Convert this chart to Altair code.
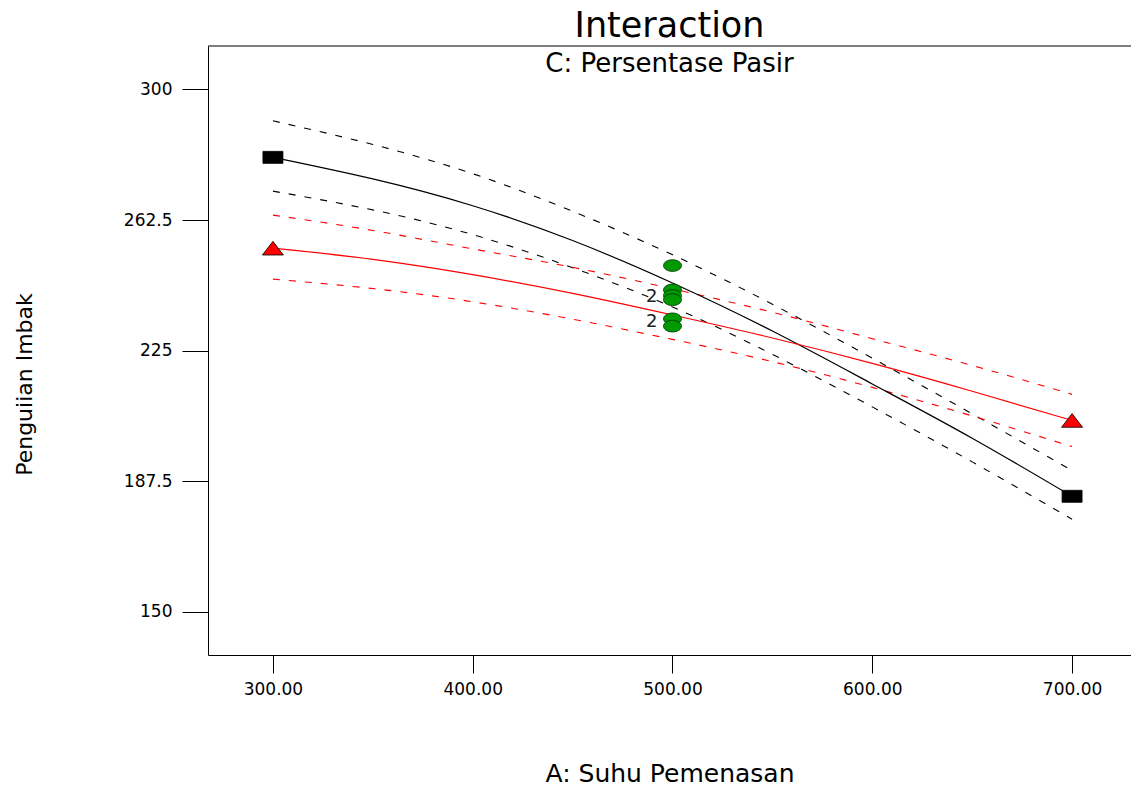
import altair as alt
import pandas as pd

# ---- data ----
x_levels = [300, 350, 400, 450, 500, 550, 600, 650, 700]

black_mean = [280.5, 274.3, 266.6, 256.6, 244.4, 230.6, 215.4, 199.8, 183.1]
black_upper = [291.0, 284.2, 275.8, 265.0, 252.5, 238.3, 222.8, 206.8, 190.5]
black_lower = [270.8, 265.4, 258.3, 248.8, 237.5, 223.9, 208.8, 193.0, 176.5]

red_mean = [254.4, 251.2, 246.8, 241.4, 235.2, 228.6, 221.3, 213.3, 204.9]
red_upper = [263.9, 259.5, 254.2, 248.9, 242.7, 236.0, 228.4, 220.7, 212.4]
red_lower = [245.5, 242.8, 239.0, 234.0, 228.2, 221.8, 214.4, 206.2, 197.4]

design_x = [500, 500, 500, 500, 500, 500]
design_y = [249.4, 242.4, 240.8, 239.6, 234.1, 232.0]

rep_x = [500, 500]
rep_y = [240.3, 233.1]
rep_label = ["2", "2"]

y_ticks = [150, 187.5, 225, 262.5, 300]
x_ticks = [300, 400, 500, 600, 700]

title_text = "Interaction"
subtitle_text = "C: Persentase Pasir"
x_title = "A: Suhu Pemenasan"
y_title = "Penguiian Imbak"

# ---- tables ----
rows = []
for lvl, band, arr in [
    ("low", "mean", black_mean), ("low", "upper", black_upper), ("low", "lower", black_lower),
    ("high", "mean", red_mean), ("high", "upper", red_upper), ("high", "lower", red_lower),
]:
    for xv, yv in zip(x_levels, arr):
        rows.append({"x": xv, "y": yv, "level": lvl, "band": band, "series": lvl + "_" + band})
lines_df = pd.DataFrame(rows)

ends_black = pd.DataFrame({"x": [x_levels[0], x_levels[-1]], "y": [black_mean[0], black_mean[-1]]})
ends_red = pd.DataFrame({"x": [x_levels[0], x_levels[-1]], "y": [red_mean[0], red_mean[-1]]})
design_df = pd.DataFrame({"x": design_x, "y": design_y})
rep_df = pd.DataFrame({"x": rep_x, "y": rep_y, "t": rep_label})

FONT = "DejaVu Sans"
W, H = 923, 609

xscale = alt.Scale(domain=[267.5, 729.5], nice=False, zero=False)
yscale = alt.Scale(domain=[137.5, 312.5], nice=False, zero=False)
color_scale = alt.Scale(domain=["low", "high"], range=["#000000", "#ff0000"])

x_axis = alt.Axis(
    values=x_ticks, format=".2f", grid=False, tickSize=18, labelPadding=8,
    labelFont=FONT, labelFontSize=17, labelColor="#000", tickColor="#000",
    domainColor="#000", title=x_title, titleFont=FONT, titleFontSize=25,
    titleFontWeight="normal", titleColor="#000", titleBaseline="alphabetic",
    titleY=126,
)
y_axis = alt.Axis(
    values=y_ticks, labelExpr="datum.value", grid=False, tickSize=26, labelPadding=10,
    labelFont=FONT, labelFontSize=17, labelColor="#000", tickColor="#000",
    domainColor="#000", title=y_title, titleFont=FONT, titleFontSize=22,
    titleFontWeight="normal", titleColor="#000", titleAngle=270,
    titleBaseline="middle", titleAlign="center", titleX=-184, titleY=338,
)

base = alt.Chart(lines_df)

dashed = base.transform_filter(alt.datum.band != "mean").mark_line(
    strokeDash=[7, 9], strokeWidth=1.1, interpolate="natural"
).encode(
    x=alt.X("x:Q", scale=xscale, axis=x_axis),
    y=alt.Y("y:Q", scale=yscale, axis=y_axis),
    color=alt.Color("level:N", scale=color_scale, legend=None),
    detail="series:N",
)

solid = base.transform_filter(alt.datum.band == "mean").mark_line(
    strokeWidth=1.2, interpolate="natural"
).encode(
    x=alt.X("x:Q", scale=xscale),
    y=alt.Y("y:Q", scale=yscale),
    color=alt.Color("level:N", scale=color_scale, legend=None),
    detail="series:N",
)

square_path = "M-1,-0.6L1,-0.6L1,0.6L-1,0.6Z"
tri_path = "M0,-0.65L1,0.65L-1,0.65Z"
ell_path = "M-1,0A1,0.65,0,1,0,1,0A1,0.65,0,1,0,-1,0Z"

sq = alt.Chart(ends_black).mark_point(
    shape=square_path, size=400, filled=True, fill="#000000", stroke="#000000",
    strokeWidth=0.8, opacity=1
).encode(x=alt.X("x:Q", scale=xscale), y=alt.Y("y:Q", scale=yscale))

tri = alt.Chart(ends_red).mark_point(
    shape=tri_path, size=441, filled=True, fill="#ff0000", stroke="#000000",
    strokeWidth=0.8, opacity=1
).encode(x=alt.X("x:Q", scale=xscale), y=alt.Y("y:Q", scale=yscale))

pts = alt.Chart(design_df).mark_point(
    shape=ell_path, size=324, filled=True, fill="#009900", stroke="#003300",
    strokeWidth=0.8, opacity=1
).encode(x=alt.X("x:Q", scale=xscale), y=alt.Y("y:Q", scale=yscale))

reps = alt.Chart(rep_df).mark_text(
    align="right", baseline="middle", dx=-15, font=FONT, fontSize=18, color="#222222"
).encode(x=alt.X("x:Q", scale=xscale), y=alt.Y("y:Q", scale=yscale), text="t:N")

top_border = alt.Chart(pd.DataFrame({"a": [0]})).mark_rule(
    color="#000000", strokeWidth=1
).encode(x=alt.value(0), x2=alt.value(W), y=alt.value(0))

title = alt.Chart(pd.DataFrame({"t": [title_text]})).mark_text(
    font=FONT, fontSize=35, baseline="alphabetic", align="center", color="#000"
).encode(text="t:N", x=alt.value(W / 2), y=alt.value(-9))

subtitle = alt.Chart(pd.DataFrame({"t": [subtitle_text]})).mark_text(
    font=FONT, fontSize=26, baseline="alphabetic", align="center", color="#000"
).encode(text="t:N", x=alt.value(W / 2), y=alt.value(26))

chart = alt.layer(
    dashed, solid, sq, tri, pts, reps, top_border, title, subtitle
).properties(
    width=W, height=H,
    autosize=alt.AutoSizeParams(type="none"),
    padding={"left": 208, "top": 46, "right": 0, "bottom": 132},
    background="white",
).configure_view(stroke=None)

chart.save("out.html", embed_options={"renderer": "svg", "actions": False})
